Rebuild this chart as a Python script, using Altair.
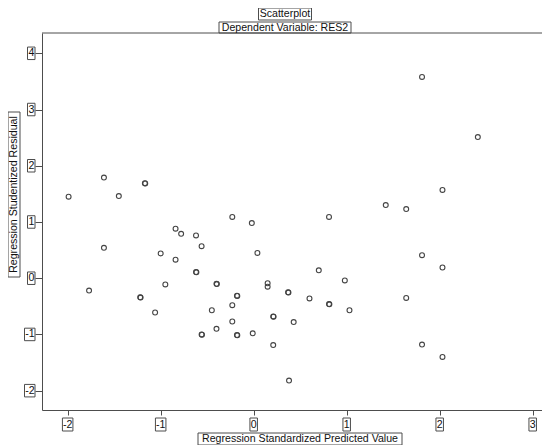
import altair as alt
import pandas as pd

# ---- data ----
x_vals = [-1.99, -1.61, -1.17, -1.166, -1.45, -0.23, -0.02, -0.84, -0.78, -0.62,
          -1.61, -0.56, 0.04, -1.00, -0.84, -0.62, -0.616, -1.77, -0.95, -0.40,
          -0.396, 0.15, 0.15, 0.37, 0.374, -1.22, -1.216, -0.18, -0.176, 0.70,
          0.98, 0.60, 0.81, 0.814, 1.03, -1.06, -0.45, -0.23, -0.23, -0.40,
          -0.56, -0.556, -0.18, -0.176, -0.01, 0.21, 0.214, 0.43, 0.21, 0.38,
          1.81, 2.41, 2.03, 1.42, 1.64, 0.81, 1.81, 2.03, 1.64, 1.81, 2.03]
y_vals = [1.45, 1.79, 1.69, 1.685, 1.46, 1.09, 0.98, 0.88, 0.79, 0.76,
          0.54, 0.57, 0.45, 0.44, 0.33, 0.11, 0.105, -0.22, -0.11, -0.10,
          -0.105, -0.09, -0.15, -0.25, -0.255, -0.34, -0.345, -0.31, -0.315, 0.14,
          -0.04, -0.36, -0.46, -0.465, -0.57, -0.61, -0.57, -0.48, -0.77, -0.90,
          -1.00, -1.005, -1.01, -1.015, -0.98, -0.68, -0.685, -0.78, -1.19, -1.82,
          3.58, 2.51, 1.57, 1.30, 1.23, 1.09, 0.41, 0.19, -0.35, -1.18, -1.40]
x_ticks = [-2, -1, 0, 1, 2, 3]
y_ticks = [-2, -1, 0, 1, 2, 3, 4]
chart_title = "Scatterplot"
chart_subtitle = "Dependent Variable: RES2"
x_title = "Regression Standardized Predicted Value"
y_title = "Regression Studentized Residual"

# ---- layout / style ----
W, H = 500, 377
FONT = "Liberation Sans"
FS = 10.6
INK = "#444444"
LINE = "#4d4d4d"
TXT = "#111111"


def box(w, h):
    # rectangle outline path in pixel units (used with symbol size 4 -> 1 unit = 1px)
    return f"M{-w/2},{-h/2}H{w/2}V{h/2}H{-w/2}Z"


pts = pd.DataFrame({"x": x_vals, "y": y_vals})
xt = pd.DataFrame({"t": x_ticks, "label": [str(v) for v in x_ticks],
                   "neg": [v < 0 for v in x_ticks]})
yt = pd.DataFrame({"t": y_ticks, "label": [str(v) for v in y_ticks],
                   "neg": [v < 0 for v in y_ticks]})
one = pd.DataFrame({"a": [0]})

xscale = alt.Scale(domain=[-2.276, 3.100], nice=False, zero=False)
yscale = alt.Scale(domain=[-2.344, 4.361], nice=False, zero=False)
xaxis = alt.Axis(values=x_ticks, labels=False, title=None, grid=False, tickSize=5,
                 tickColor=LINE, domainColor=LINE, tickWidth=1, domainWidth=1)
yaxis = alt.Axis(values=y_ticks, labels=False, title=None, grid=False, tickSize=7,
                 tickColor=LINE, domainColor=LINE, tickWidth=1, domainWidth=1)

points = alt.Chart(pts).mark_point(
    shape="circle", size=24, filled=False, strokeWidth=1.1, color=INK, opacity=1
).encode(
    x=alt.X("x:Q", scale=xscale, axis=xaxis),
    y=alt.Y("y:Q", scale=yscale, axis=yaxis),
)

frame_top = alt.Chart(one).mark_rule(color=LINE, strokeWidth=1).encode(
    x=alt.value(0), x2=alt.value(W), y=alt.value(0)
)

layers = [points, frame_top]

# x tick labels with boxes
for neg, w in ((True, 10.5), (False, 7.5)):
    d = xt[xt["neg"] == neg]
    ex = alt.X("t:Q", scale=xscale, axis=xaxis)
    layers.append(alt.Chart(d).mark_point(
        shape=box(w, 13), size=4, filled=False, strokeWidth=1, color=LINE, opacity=1
    ).encode(x=ex, y=alt.value(H + 14.5)))
    layers.append(alt.Chart(d).mark_text(
        font=FONT, fontSize=FS, color=TXT, baseline="middle", align="center"
    ).encode(x=ex, y=alt.value(H + 14.5), text="label:N"))

# y tick labels with boxes
for neg, w in ((True, 10.5), (False, 7.5)):
    d = yt[yt["neg"] == neg]
    cx = -7 - w / 2
    ey = alt.Y("t:Q", scale=yscale, axis=yaxis)
    layers.append(alt.Chart(d).mark_point(
        shape=box(w, 12.5), size=4, filled=False, strokeWidth=1, color=LINE, opacity=1
    ).encode(x=alt.value(cx), y=ey))
    layers.append(alt.Chart(d).mark_text(
        font=FONT, fontSize=FS, color=TXT, baseline="middle", align="center"
    ).encode(x=alt.value(cx + 0.3), y=ey, text="label:N"))

# titles with boxes
def boxed_text(text, cx, cy, w, h, angle=0):
    bw, bh = (h, w) if angle else (w, h)
    b = alt.Chart(one).mark_point(
        shape=box(bw, bh), size=4, filled=False, strokeWidth=1, color=LINE, opacity=1
    ).encode(x=alt.value(cx), y=alt.value(cy))
    t = alt.Chart(one).mark_text(
        font=FONT, fontSize=FS, color=TXT, baseline="middle", align="center",
        angle=angle, text=text
    ).encode(x=alt.value(cx), y=alt.value(cy))
    return [b, t]

layers += boxed_text(chart_title, 243, -19, 53, 12)
layers += boxed_text(chart_subtitle, 243, -5.5, 132, 11)
layers += boxed_text(x_title, 258, 406, 204, 12)
layers += boxed_text(y_title, -28, 161.5, 165, 12, angle=270)

chart = alt.layer(*layers).properties(
    width=W, height=H,
    autosize=alt.AutoSizeParams(type="none"),
    padding={"left": 34, "top": 25, "right": 0, "bottom": 37},
    background="white",
).configure_view(stroke=None)

chart.save("out.html", embed_options={"renderer": "svg", "actions": False})
